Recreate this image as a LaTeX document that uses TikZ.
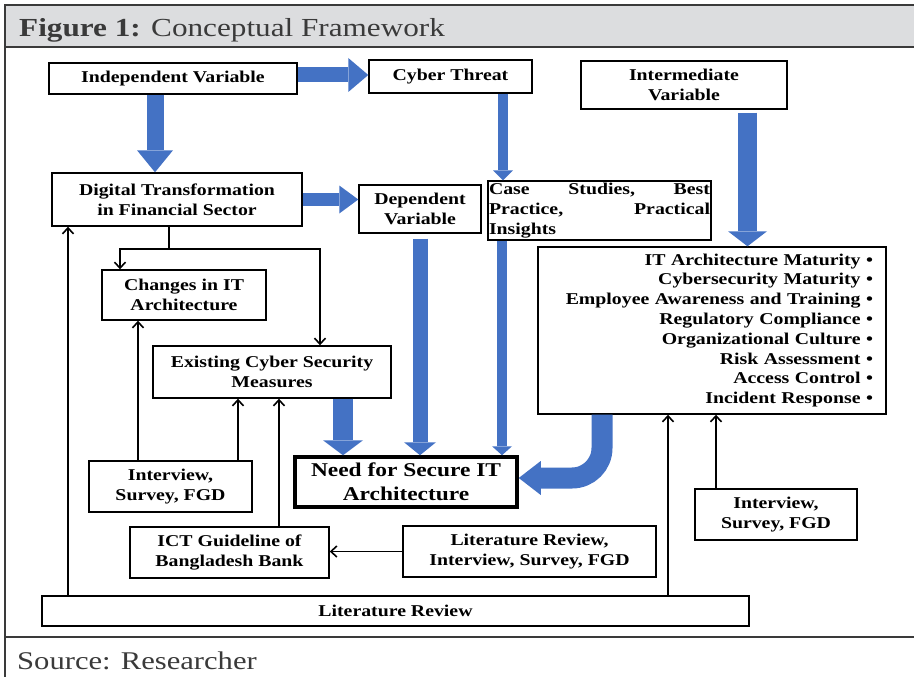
\documentclass[tikz,border=0pt]{standalone}
\usepackage{fontspec}
\setmainfont{Liberation Serif}[FakeStretch=1.2]
\usetikzlibrary{arrows.meta, calc}
\definecolor{arrowblue}{HTML}{4472C4}
\definecolor{barfill}{HTML}{DCDDDF}
\definecolor{framegray}{HTML}{3A3A3A}

\begin{document}
\begin{tikzpicture}[x=1pt, y=-1pt, >={Straight Barb[length=6pt,width=11pt]}]
\tikzset{box/.style={draw, line width=1.4pt, fill=white, align=center, inner sep=2pt, font=\fontsize{16.5}{19.8}\selectfont\bfseries},
  fat/.style n args={3}{draw=arrowblue, line width=#1, -{Triangle[length=#2 0 0, width=#3 0 0, line width=0pt 0 0]}},
  link/.style={line width=1.6pt, ->}, frame/.style={draw=framegray, line width=1.5pt}}
\useasboundingbox (0,0) rectangle (914,677);
\fill[barfill] (5,5) rectangle (914,47);
\draw[frame] (914,5) -- (5,5) -- (5,677); \draw[frame] (5,47) -- (914,47); \draw[frame] (5,637) -- (914,637);
\node[anchor=base west, inner sep=0pt, text=framegray, font=\fontsize{26}{30}\selectfont] (title) at (19,37) {\textbf{Figure 1:} Conceptual Framework};
\node[anchor=base west, inner sep=0pt, text=framegray, font=\fontsize{25.5}{30}\selectfont] (src) at (17,669) {Source: Researcher};

\node[box, minimum width=248pt, minimum height=31pt] (iv) at (173,78.5) {Independent Variable};
\node[box, minimum width=163pt, minimum height=33pt] (ct) at (450.5,76.5) {Cyber Threat};
\node[box, minimum width=206pt, minimum height=48pt] (imv) at (684,85) {Intermediate\\Variable};
\node[box, minimum width=250pt, minimum height=53pt] (dt) at (177,199.5) {Digital Transformation\\in Financial Sector};
\node[box, minimum width=122pt, minimum height=48pt] (dv) at (420,209) {Dependent\\Variable};
\node[box, text width=221pt, inner xsep=1pt, minimum height=57pt, align=left] (cs) at (599.5,210.5) {Case\hfill Studies,\hfill Best\\Practice,\hfill Practical\\Insights};
\node[box, text width=322pt, inner xsep=13pt, minimum height=167pt, align=right] (bul) at (712,330.5) {IT Architecture Maturity •\\Cybersecurity Maturity •\\Employee Awareness and Training •\\Regulatory Compliance •\\Organizational Culture •\\Risk Assessment •\\Access Control •\\Incident Response •};
\node[box, minimum width=164pt, minimum height=50pt] (ch) at (184,295) {Changes in IT\\Architecture};
\node[box, minimum width=238pt, minimum height=52pt] (ec) at (272,372) {Existing Cyber Security\\Measures};
\node[box, line width=3.5pt, minimum width=222pt, minimum height=50pt, font=\fontsize{19.5}{23.5}\selectfont\bfseries] (need) at (406,482) {Need for Secure IT\\Architecture};
\node[box, minimum width=163pt, minimum height=51pt] (il) at (170.5,486.5) {Interview,\\Survey, FGD};
\node[box, minimum width=199pt, minimum height=51pt] (ict) at (229.5,552.5) {ICT Guideline of\\Bangladesh Bank};
\node[box, minimum width=253pt, minimum height=51pt] (lis) at (529.5,551.5) {Literature Review,\\Interview, Survey, FGD};
\node[box, minimum width=162pt, minimum height=51pt] (ir) at (776,514.5) {Interview,\\Survey, FGD};
\node[box, minimum width=707pt, minimum height=30pt] (lr) at (395.5,611) {Literature Review};

\draw[fat={15pt}{20pt}{34pt}] ([yshift=3.5pt]iv.east) -- ([yshift=3.5pt]iv.east -| ct.west);
\draw[fat={17pt}{22pt}{36pt}] ([xshift=-18pt]iv.south) -- ([xshift=-18pt]iv.south |- dt.north);
\draw[fat={13pt}{19pt}{28pt}] (dt.east) -- (dt.east -| dv.west);
\draw[fat={10pt}{10pt}{20pt}] ([xshift=52.5pt]ct.south) -- ([xshift=52.5pt]ct.south |- cs.north);
\draw[fat={19pt}{15pt}{39pt}] ([xshift=63.5pt,yshift=-3pt]imv.south) -- ([xshift=63.5pt]imv.south |- bul.north);
\draw[fat={20pt}{15pt}{40pt}] ([xshift=71pt]ec.south) -- ([xshift=71pt]ec.south |- need.north);
\draw[fat={15pt}{13pt}{32pt}] ([yshift=-5pt]dv.south) -- (dv.south |- need.north);
\draw[fat={10pt}{9pt}{20pt}] ([xshift=-97.5pt]cs.south) -- ([xshift=-97.5pt]cs.south |- need.north);
\draw[fat={21pt}{22pt}{34pt}, rounded corners=30pt] ([xshift=-110pt]bul.south) |- ([yshift=4pt]need.east);

\coordinate (split) at ([xshift=-8pt,yshift=-22pt]dt.south);
\draw[line width=1.6pt] (dt.south -| split) -- (split);
\draw[link] (split) -| ([xshift=-64pt]ch.north);
\draw[link] (split) -| ([xshift=48pt]ec.north);
\draw[link] ([xshift=-32.5pt]il.north) -- ([xshift=-32.5pt]il.north |- ch.south);
\draw[link] ([xshift=67.5pt]il.north) -- ([xshift=67.5pt]il.north |- ec.south);
\draw[link] ([xshift=49.5pt]ict.north) -- ([xshift=49.5pt]ict.north |- ec.south);
\draw[link] (lis.west) -- (lis.west -| ict.east);
\draw[link] ([xshift=-327.5pt]lr.north) -- ([xshift=-327.5pt]lr.north |- dt.south);
\draw[link] ([xshift=272.5pt]lr.north) -- ([xshift=272.5pt]lr.north |- bul.south);
\draw[link] ([xshift=-60pt]ir.north) -- ([xshift=-60pt]ir.north |- bul.south);
\end{tikzpicture}
\end{document}
